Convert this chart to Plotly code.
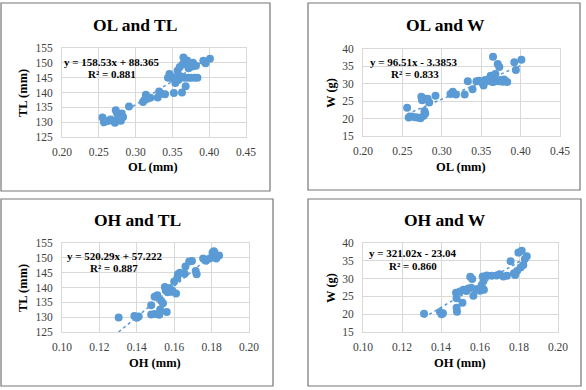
import plotly.graph_objects as go

# ---------------- data ----------------
ol_tl_x = [0.255, 0.257, 0.262, 0.266, 0.270, 0.272, 0.273, 0.275, 0.277, 0.279, 0.280, 0.281, 0.283,
           0.291, 0.310, 0.312, 0.314, 0.316, 0.320, 0.330, 0.332, 0.335, 0.340, 0.344, 0.346, 0.348,
           0.350, 0.352, 0.354, 0.355, 0.357, 0.358, 0.360, 0.361, 0.363, 0.364, 0.365, 0.366, 0.368,
           0.370, 0.371, 0.372, 0.374, 0.375, 0.377, 0.378, 0.380, 0.382, 0.384, 0.392, 0.395, 0.401]
ol_tl_y = [131.6, 130.0, 130.4, 130.9, 130.3, 129.8, 134.0, 132.8, 131.0, 131.8, 130.5, 132.9, 131.7,
           135.3, 136.8, 137.5, 139.2, 137.9, 138.2, 138.3, 140.3, 139.6, 139.4, 145.0, 146.2, 145.5,
           144.8, 139.8, 143.2, 145.0, 147.3, 144.2, 148.6, 145.5, 140.0, 149.5, 151.8, 145.0, 142.1,
           150.8, 145.0, 148.2, 149.5, 145.0, 148.8, 150.0, 145.0, 149.0, 145.0, 150.7, 149.9, 151.4]

ol_w_x = [0.256, 0.258, 0.262, 0.266, 0.269, 0.273, 0.274, 0.275, 0.276, 0.277, 0.278, 0.279, 0.282,
          0.284, 0.292, 0.311, 0.314, 0.318, 0.329, 0.333, 0.339, 0.344, 0.347, 0.350, 0.352, 0.353,
          0.355, 0.357, 0.359, 0.361, 0.362, 0.364, 0.365, 0.366, 0.368, 0.369, 0.371, 0.372, 0.373,
          0.375, 0.377, 0.379, 0.381, 0.383, 0.392, 0.394, 0.401]
ol_w_y = [23.1, 20.3, 20.6, 20.4, 20.3, 20.1, 26.3, 25.3, 25.9, 20.8, 22.2, 21.5, 25.7,
          24.6, 26.6, 27.1, 27.7, 26.9, 26.9, 30.7, 28.4, 30.7, 30.9, 30.6, 30.2, 29.5,
          31.1, 30.8, 31.0, 31.7, 32.3, 30.5, 37.8, 30.6, 32.8, 31.0, 35.7, 30.7, 34.8,
          31.1, 30.6, 31.2, 30.7, 30.5, 36.2, 34.0, 36.9]

oh_tl_x = [0.1303, 0.1387, 0.1400, 0.1410, 0.1477, 0.1477, 0.1495, 0.1495, 0.1510, 0.1520, 0.1525,
           0.1530, 0.1540, 0.1550, 0.1560, 0.1555, 0.1565, 0.1575, 0.1585, 0.1590, 0.1600, 0.1610,
           0.1617, 0.1620, 0.1630, 0.1656, 0.1660, 0.1680, 0.1695, 0.1715, 0.1720, 0.1755, 0.1770,
           0.1790, 0.1805, 0.1812, 0.1818, 0.1825, 0.1840]
oh_tl_y = [129.9, 130.4, 129.8, 130.2, 134.0, 130.9, 131.1, 136.9, 137.4, 130.8, 132.6, 135.5,
           134.7, 140.2, 131.7, 139.0, 138.4, 139.8, 138.6, 138.9, 142.0, 138.0, 143.3, 144.5,
           145.0, 144.6, 147.1, 148.8, 148.9, 145.6, 144.5, 149.8, 149.0, 149.8, 151.7, 152.2,
           150.4, 149.8, 150.8]

oh_w_x = [0.1313, 0.1395, 0.1403, 0.1410, 0.1477, 0.1480, 0.1480, 0.1482, 0.1497, 0.1510, 0.1515,
          0.1530, 0.1540, 0.1550, 0.1560, 0.1555, 0.1566, 0.1580, 0.1600, 0.1609, 0.1614, 0.1618,
          0.1620, 0.1635, 0.1660, 0.1685, 0.1700, 0.1720, 0.1738, 0.1757, 0.1774, 0.1780, 0.1790,
          0.1797, 0.1814, 0.1808, 0.1822, 0.1830, 0.1840]
oh_w_y = [20.1, 20.6, 20.0, 20.3, 26.0, 24.5, 21.8, 20.7, 26.4, 23.2, 26.9, 26.5, 27.2, 30.5,
          29.9, 27.4, 25.2, 27.0, 26.6, 28.2, 30.6, 29.3, 26.9, 30.9, 30.8, 30.9, 31.2, 30.6,
          30.8, 34.9, 31.5, 31.0, 32.1, 37.3, 37.8, 33.1, 33.8, 35.5, 36.3]

titles = ["OL and TL", "OL and W", "OH and TL", "OH and W"]
x_titles = ["OL (mm)", "OL (mm)", "OH (mm)", "OH (mm)"]
y_titles = ["TL (mm)", "W (g)", "TL (mm)", "W (g)"]
slopes = [158.53, 96.51, 520.29, 321.02]
intercepts = [88.365, -3.3853, 57.222, -23.04]
equations = ["y = 158.53x + 88.365", "y = 96.51x - 3.3853", "y = 520.29x + 57.222", "y = 321.02x - 23.04"]
r2_labels = ["R² = 0.881", "R² = 0.833", "R² = 0.887", "R² = 0.860"]
x_ranges = [[0.20, 0.45], [0.20, 0.45], [0.10, 0.20], [0.10, 0.20]]
x_dticks = [0.05, 0.05, 0.02, 0.02]
y_ranges = [[125, 155], [15, 40], [125, 155], [15, 40]]
y_dtick = 5

xs = [ol_tl_x, ol_w_x, oh_tl_x, oh_w_x]
ys = [ol_tl_y, ol_w_y, oh_tl_y, oh_w_y]

# ---------------- layout geometry (pixels) ----------------
W, H = 586, 390
plot_boxes = [(62, 246, 48, 137), (363, 560, 49, 136), (62, 249, 243, 332), (363, 558, 243, 332)]
panel_boxes = [(1, 270, 3, 191), (308, 580, 3, 190), (1, 273, 199, 386), (308, 581, 199, 386)]
title_pos = [(135, 25), (445, 25), (137, 220), (445, 220)]
xtitle_pos = [(153, 167), (461, 167), (155, 363), (460, 363)]
ytitle_pos = [(23, 93), (331, 93), (23, 288), (331, 288)]
eq_pos = [(112, 62), (413, 62), (115, 256), (412, 253)]
r2_pos = [(112, 74), (415, 74), (114, 268), (413, 266)]

BLUE = "#5B9BD5"
FONT = "Liberation Serif, Times New Roman, serif"

def px(x):
    return x / W

def py(y):
    return 1 - y / H

fig = go.Figure()
annotations = []
shapes = []

for i in range(4):
    sfx = "" if i == 0 else str(i + 1)
    xa, ya = "x" + sfx, "y" + sfx
    fig.add_trace(go.Scatter(
        x=xs[i], y=ys[i], mode="markers", xaxis=xa, yaxis=ya,
        marker=dict(color=BLUE, size=8, line=dict(width=0)), showlegend=False))
    x0, x1 = min(xs[i]), max(xs[i])
    fig.add_trace(go.Scatter(
        x=[x0, x1], y=[slopes[i] * x0 + intercepts[i], slopes[i] * x1 + intercepts[i]],
        mode="lines", xaxis=xa, yaxis=ya,
        line=dict(color=BLUE, width=1.5, dash="dot"), showlegend=False))

    l, r, t, b = plot_boxes[i]
    axis_common = dict(showgrid=True, gridcolor="#D9D9D9", gridwidth=1, zeroline=False,
                       showline=True, linecolor="#D9D9D9", linewidth=1, mirror=True,
                       automargin=False, ticks="", ticklen=0,
                       tickfont=dict(family=FONT, size=11.5, color="#404040"))
    fig.layout["xaxis" + sfx] = dict(domain=[px(l), px(r)], anchor=ya, range=x_ranges[i],
                                     dtick=x_dticks[i], tick0=x_ranges[i][0], tickformat=".2f",
                                     ticklabelstandoff=4, **axis_common)
    fig.layout["yaxis" + sfx] = dict(domain=[py(b), py(t)], anchor=xa, range=y_ranges[i],
                                     dtick=y_dtick, tick0=y_ranges[i][0],
                                     ticklabelstandoff=6, **axis_common)

    pl, pr, pt, pb = panel_boxes[i]
    shapes.append(dict(type="rect", xref="paper", yref="paper", x0=px(pl), x1=px(pr),
                       y0=py(pb), y1=py(pt), line=dict(color="#767676", width=1.2)))

    def ann(text, pos, size, angle=0, bold=True):
        annotations.append(dict(text=("<b>%s</b>" % text) if bold else text,
                                x=px(pos[0]), y=py(pos[1]), xref="paper", yref="paper",
                                showarrow=False, xanchor="center", yanchor="middle",
                                textangle=angle,
                                font=dict(family=FONT, size=size, color="#000000")))

    ann(titles[i], title_pos[i], 17.5)
    ann(x_titles[i], xtitle_pos[i], 12.5)
    ann(y_titles[i], ytitle_pos[i], 12.5, angle=-90)
    ann(equations[i], eq_pos[i], 11)
    ann(r2_labels[i], r2_pos[i], 11)

fig.update_layout(template="none", width=W, height=H, margin=dict(l=0, r=0, t=0, b=0, pad=0),
                  paper_bgcolor="white", plot_bgcolor="white",
                  annotations=annotations, shapes=shapes)

fig.write_html("out.html", config={"displayModeBar": False},
               post_script="document.body.style.margin='0';document.body.style.overflow='hidden';")
